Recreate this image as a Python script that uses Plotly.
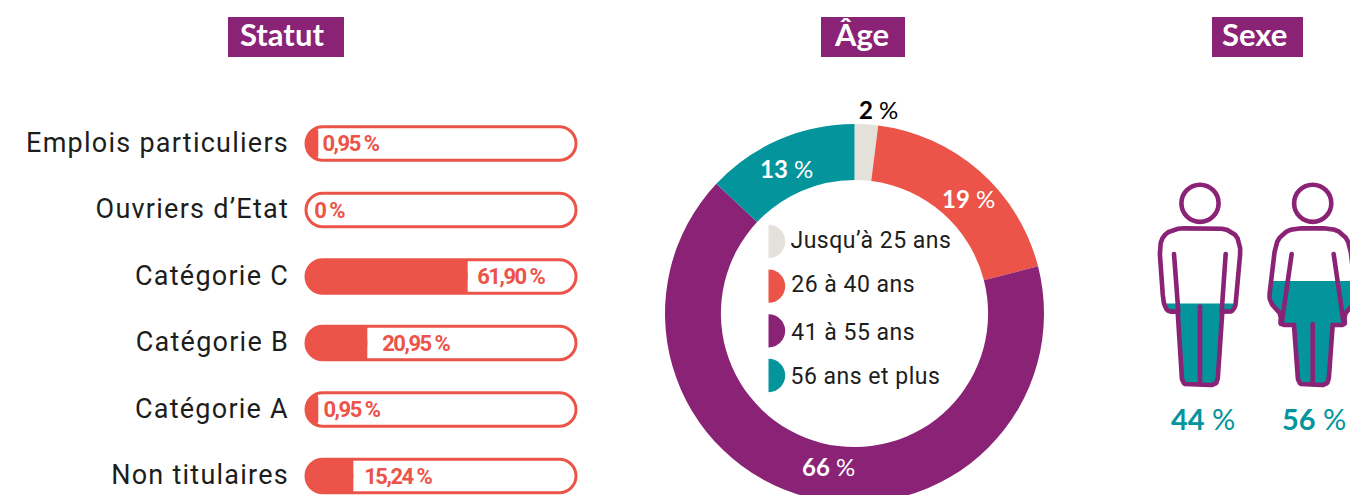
import plotly.graph_objects as go

# ---- data
status_labels = ["Emplois particuliers", "Ouvriers d\u2019Etat", "Catégorie C", "Catégorie B", "Catégorie A", "Non titulaires"]
status_values = [0.95, 0, 61.90, 20.95, 0.95, 15.24]
status_text = ["0,95 %", "0 %", "61,90 %", "20,95 %", "0,95 %", "15,24 %"]
age_labels = ["Jusqu\u2019à 25 ans", "26 à 40 ans", "41 à 55 ans", "56 ans et plus"]
age_values = [2, 19, 66, 13]
sex_labels = ["Hommes", "Femmes"]
sex_values = [44, 56]
titles = ["Statut", "Âge", "Sexe"]

# ---- styles
CORAL, PURPLE, TEAL, BEIGE = "#ec5349", "#8a2275", "#03949c", "#e3e1d9"
age_colors = [BEIGE, CORAL, PURPLE, TEAL]
W, H = 1350, 520          # page photographs the top 495 px, donut runs past the bottom
TEXT = "#1d1d1b"
DIN = "Roboto"
HEAD = "Lato"

BAR_L, BAR_R = 306, 577
ZERO_PX, PX_PER_PCT = 316, 2.45
ROW0, ROW_STEP = 143.5, 66.5
CORNER = 17
label_px = [316, 310, 470, 375, 317, 357]
legend_text_y = [240, 284, 332, 376]


def bez_circle(cx, cy, r):
    k = 0.5523 * r
    return (f"M{cx-r},{cy} C{cx-r},{cy-k} {cx-k},{cy-r} {cx},{cy-r} "
            f"C{cx+k},{cy-r} {cx+r},{cy-k} {cx+r},{cy} "
            f"C{cx+r},{cy+k} {cx+k},{cy+r} {cx},{cy+r} "
            f"C{cx-k},{cy+r} {cx-r},{cy+k} {cx-r},{cy} Z")


def round_poly(pts, radii):
    """Closed polygon with rounded corners, sampled as a polyline."""
    out = []
    n = len(pts)
    for i, (p, r) in enumerate(zip(pts, radii)):
        a, b = pts[i - 1], pts[(i + 1) % n]
        if r == 0:
            out.append(p)
            continue
        def toward(q):
            d = ((q[0]-p[0])**2 + (q[1]-p[1])**2) ** .5
            t = min(r, d / 2) / d
            return (p[0] + (q[0]-p[0]) * t, p[1] + (q[1]-p[1]) * t)
        s, e = toward(a), toward(b)
        for k in range(9):
            t = k / 8
            out.append(((1-t)**2*s[0] + 2*t*(1-t)*p[0] + t*t*e[0],
                        (1-t)**2*s[1] + 2*t*(1-t)*p[1] + t*t*e[1]))
    out.append(out[0])
    return out


def clip_below(poly, level):
    out = []
    for (x0, y0), (x1, y1) in zip(poly, poly[1:]):
        if y0 >= level:
            out.append((x0, y0))
        if (y0 >= level) != (y1 >= level):
            t = (level - y0) / (y1 - y0)
            out.append((x0 + (x1 - x0) * t, level))
    if out:
        out.append(out[0])
    return out


fig = go.Figure()

# ---- status bars: rounded tip on the left, square body over the right end
axis_min = (BAR_L - ZERO_PX) / PX_PER_PCT
axis_max = (BAR_R - ZERO_PX) / PX_PER_PCT
square_from = axis_min + CORNER / PX_PER_PCT
shown = [i for i, v in enumerate(status_values) if v > 0]
fig.add_trace(go.Bar(
    orientation="h",
    y=[status_labels[i] for i in shown],
    base=[status_values[i] for i in shown],
    x=[axis_min - status_values[i] for i in shown],
    marker=dict(color=CORAL, line_width=0, cornerradius=CORNER),
    width=0.53, hoverinfo="skip", xaxis="x", yaxis="y", showlegend=False,
))
long_bars = [i for i in shown if status_values[i] > square_from]
fig.add_trace(go.Bar(
    orientation="h",
    y=[status_labels[i] for i in long_bars],
    base=[square_from] * len(long_bars),
    x=[status_values[i] - square_from for i in long_bars],
    marker=dict(color=CORAL, line_width=0),
    width=0.53, hoverinfo="skip", xaxis="x", yaxis="y", showlegend=False,
))

# ---- pixel overlay for icons and labels
PX = dict(xaxis="x2", yaxis="y2", showlegend=False, hoverinfo="skip")


def add_line(pts, fill=None):
    fig.add_trace(go.Scatter(
        x=[p[0] for p in pts], y=[p[1] for p in pts], mode="lines",
        line=dict(color=fill or PURPLE, width=0 if fill else 4.6, shape="linear"),
        fill="toself" if fill else None, fillcolor=fill, **PX))


def z(x, y):  # icon drawing units
    return (1140 + x / 3, 170 + y / 3)


FEET, FULL = 385.5, 186.5
man = round_poly([z(*p) for p in [(54, 175), (306, 175), (288, 425), (247, 425), (232, 645), (127, 645),
                                  (113, 425), (72, 425)]],
                 [26, 26, 17, 0, 7, 7, 0, 17])
woman = round_poly([z(*p) for p in [(412, 175), (624, 175), (650, 395), (610, 432), (618, 465), (578, 465),
                                    (565, 645), (475, 645), (462, 465), (418, 465), (426, 432), (386, 395)]],
                   [24, 24, 8, 12, 5, 0, 7, 7, 0, 5, 12, 8])
add_line(clip_below(man, FEET - FULL * sex_values[0] / 100), TEAL)
add_line(clip_below(woman, FEET - FULL * sex_values[1] / 100), TEAL)
add_line(man)
add_line(woman)
for a, b in [((102, 252), (115, 425)), ((257, 252), (245, 425)), ((180, 410), (180, 640)),
             ((455, 252), (425, 460)), ((581, 252), (611, 460)), ((518, 462), (518, 640))]:
    add_line([z(*a), z(*b)])

# ---- donut
fig.add_trace(go.Pie(
    labels=age_labels, values=age_values, sort=False, direction="clockwise", rotation=0,
    hole=0.705, marker=dict(colors=age_colors, line_width=0), textinfo="none", hoverinfo="skip",
    showlegend=False,
    domain=dict(x=[665 / W, 1044 / W], y=[1 - 503 / H, 1 - 124 / H]),
))

shapes, ann = [], []
PXREF = dict(xref="x2", yref="y2")

# track outlines, with white masks trimming the bars to the track's left curve
for i in range(6):
    yc = ROW0 + i * ROW_STEP
    t, b, l, r, rad = yc - 16.8, yc + 16.8, BAR_L, BAR_R - 1, 16.8
    k = rad * 0.5523
    mask = (f"M{l-4},{t-4} L{l+rad},{t-4} L{l+rad},{t} C{l+rad-k},{t} {l},{yc-k} {l},{yc} "
            f"C{l},{yc+k} {l+rad-k},{b} {l+rad},{b} L{l+rad},{b+4} L{l-4},{b+4} Z")
    shapes.append(dict(type="path", path=mask, fillcolor="#ffffff", line_width=0, layer="above", **PXREF))
    path = (f"M{l+rad},{t} L{r-rad},{t} C{r-rad+k},{t} {r},{yc-k} {r},{yc} C{r},{yc+k} {r-rad+k},{b} {r-rad},{b} "
            f"L{l+rad},{b} C{l+rad-k},{b} {l},{yc+k} {l},{yc} C{l},{yc-k} {l+rad-k},{t} {l+rad},{t} Z")
    shapes.append(dict(type="path", path=path, line=dict(color=CORAL, width=3), layer="above", **PXREF))
    ann.append(dict(x=label_px[i], y=yc, text=f"<b>{status_text[i]}</b>", showarrow=False, xanchor="left",
                    font=dict(family=DIN, size=22, color=CORAL), **PXREF))

# heads
for cx in (1200, 1312.7):
    shapes.append(dict(type="path", path=bez_circle(cx, 203.3, 18.6), line=dict(color=PURPLE, width=4.6),
                       layer="above", **PXREF))

# legend inside donut
for i, (lab, col) in enumerate(zip(age_labels, age_colors)):
    yc = 241.5 + i * 44.67
    r = 16.7
    x0 = 768.5
    k = r * 0.5523
    shapes.append(dict(type="path", line_width=0, fillcolor=col, layer="above",
                       path=f"M{x0},{yc-r} C{x0+k},{yc-r} {x0+r},{yc-k} {x0+r},{yc} C{x0+r},{yc+k} {x0+k},{yc+r} {x0},{yc+r} Z",
                       **PXREF))
    ann.append(dict(x=792, y=legend_text_y[i], text=lab, showarrow=False, xanchor="left",
                    font=dict(family=DIN, size=23, color=TEXT), **PXREF))

# donut labels
for val, x, y, col in zip(age_values, [878, 968.5, 828, 786.5], [109, 198, 466, 168], ["#000000", "#ffffff", "#ffffff", "#ffffff"]):
    ann.append(dict(x=x, y=y, text=f"<b>{val}</b> %", showarrow=False,
                    font=dict(family=HEAD, size=24, color=col), **PXREF))

# sex labels
for val, x in zip(sex_values, [1202.5, 1314]):
    ann.append(dict(x=x, y=418.5, text=f"<b>{val}</b> %", showarrow=False,
                    font=dict(family=HEAD, size=29, color=TEAL), **PXREF))

# titles
for t, (x0, x1), dx in zip(titles, [(228, 344), (821, 905), (1212, 1303)], [4, 1.5, 3.5]):
    shapes.append(dict(type="rect", x0=x0, x1=x1, y0=17, y1=57, fillcolor=PURPLE, line_width=0, layer="above", **PXREF))
    ann.append(dict(x=(x0 + x1) / 2 - dx, y=33.5, text=f"<b>{t}</b>", showarrow=False,
                    font=dict(family=HEAD, size=31, color="#ffffff"), **PXREF))

fig.update_layout(
    width=W, height=H, autosize=False, margin=dict(l=0, r=0, t=0, b=0, pad=0),
    barmode="overlay",
    paper_bgcolor="#ffffff", plot_bgcolor="rgba(0,0,0,0)",
    xaxis=dict(domain=[BAR_L / W, BAR_R / W], range=[axis_min, axis_max], visible=False, fixedrange=True),
    yaxis=dict(domain=[1 - (ROW0 + 5.5 * ROW_STEP) / H, 1 - (ROW0 - 0.5 * ROW_STEP) / H],
               range=[5.5, -0.5], type="category", categoryorder="array", categoryarray=status_labels,
               tickmode="array", tickvals=status_labels, ticktext=status_labels,
               showline=False, showgrid=False, zeroline=False, ticks="", ticklabelstandoff=16,
               tickfont=dict(family=DIN, size=27, color=TEXT), fixedrange=True, automargin=False),
    xaxis2=dict(domain=[0, 1], range=[0, W], visible=False, fixedrange=True, anchor="y2"),
    yaxis2=dict(domain=[0, 1], range=[H, 0], visible=False, fixedrange=True, anchor="x2"),
    shapes=shapes, annotations=ann,
)

post = """
document.body.style.margin='0';
document.documentElement.style.overflow='hidden';
document.body.style.overflow='hidden';
document.querySelectorAll('.ytick text').forEach(function(t){
  t.style.letterSpacing='1.25px';
  t.setAttribute('y', parseFloat(t.getAttribute('y'))-1);
});
document.querySelectorAll('.scatterlayer .js-line').forEach(function(t){t.style.strokeLinecap='round';});
document.querySelectorAll('.annotation-text').forEach(function(t){
  var s=t.textContent;
  if(/^[0-9,]+ %$/.test(s) && t.style.fontFamily.indexOf('Roboto')>=0){t.style.letterSpacing='-1.5px';}
  else if(t.style.fontFamily.indexOf('Roboto')>=0){t.style.letterSpacing='0.5px';}
});
"""
fig.write_html("out.html", config=dict(displayModeBar=False), post_script=post)
